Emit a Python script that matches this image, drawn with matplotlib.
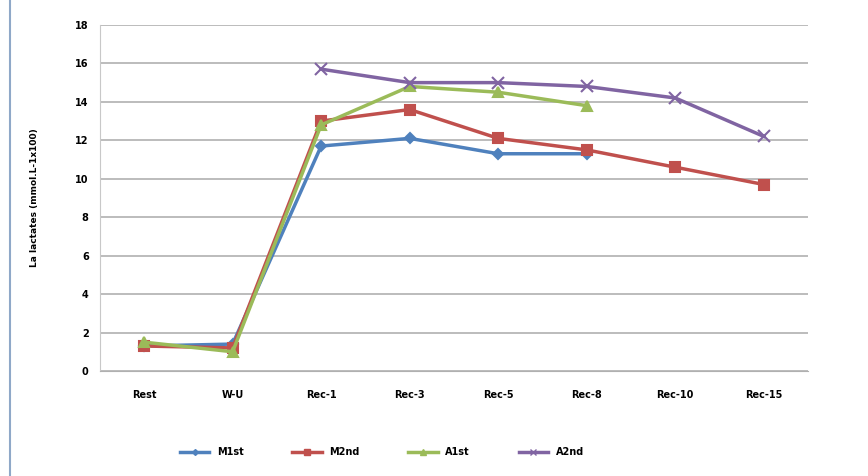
import numpy as np
import matplotlib
matplotlib.use("Agg")
import matplotlib.pyplot as plt
from matplotlib.lines import Line2D

# Data
stages = ["Rest", "W-U", "Rec-1", "Rec-3", "Rec-5", "Rec-8", "Rec-10", "Rec-15"]
m1st = [1.3, 1.4, 11.7, 12.1, 11.3, 11.3, np.nan, np.nan]
m2nd = [1.3, 1.2, 13.0, 13.6, 12.1, 11.5, 10.6, 9.7]
a1st = [1.5, 1.0, 12.8, 14.8, 14.5, 13.8, np.nan, np.nan]
a2nd = [np.nan, np.nan, 15.7, 15.0, 15.0, 14.8, 14.2, 12.2]
series_names = ["M1st", "M2nd", "A1st", "A2nd"]

fig = plt.figure(figsize=(8.68, 4.76), dpi=100)
ax = fig.add_axes([0.115, 0.2206, 0.816, 0.727])

x = np.arange(len(stages))
styles = [
    (m1st, "#4F81BD", "D", 5),
    (m2nd, "#C0504D", "s", 7),
    (a1st, "#9BBB59", "^", 7),
    (a2nd, "#8064A2", "x", 8),
]
for (vals, col, mk, ms), name in zip(styles, series_names):
    ax.plot(x, vals, color=col, linewidth=2.5, marker=mk, markersize=ms,
            markeredgewidth=1.5, label=name)

ax.set_xlim(-0.5, len(stages) - 0.5)
ax.set_ylim(0, 18)
ax.set_yticks(range(0, 19, 2))
ax.set_xticks(x)
ax.set_xticklabels(stages, fontsize=7, fontweight="bold")
for t in ax.get_yticklabels():
    t.set_fontsize(7)
    t.set_fontweight("bold")
ax.tick_params(length=0, pad=14)
ax.tick_params(axis="y", pad=8)
ax.grid(axis="y", color="#b0b0b0", linewidth=1.2)
ax.set_axisbelow(True)
for side in ["top", "right"]:
    ax.spines[side].set_visible(False)
ax.spines["left"].set_color("#c8c8c8")
ax.spines["bottom"].set_color("#b0b0b0")

ax.set_ylabel("La lactates (mmol.L-1x100)", fontsize=6.5, fontweight="bold", labelpad=26)

handles = [Line2D([0], [0], color=c, linewidth=2.5, marker=m, markersize=s * 0.6)
           for _, c, m, s in styles]
fig.legend(handles, series_names, loc="center", bbox_to_anchor=(0.44, 0.05),
           ncol=4, frameon=False, prop={"weight": "bold", "size": 7},
           columnspacing=5, handlelength=3)

# left border line from the source image
fig.add_artist(Line2D([0.011, 0.011], [0, 1], color="#8fa8c8", linewidth=1.5))

fig.savefig("out.png", dpi=100)
